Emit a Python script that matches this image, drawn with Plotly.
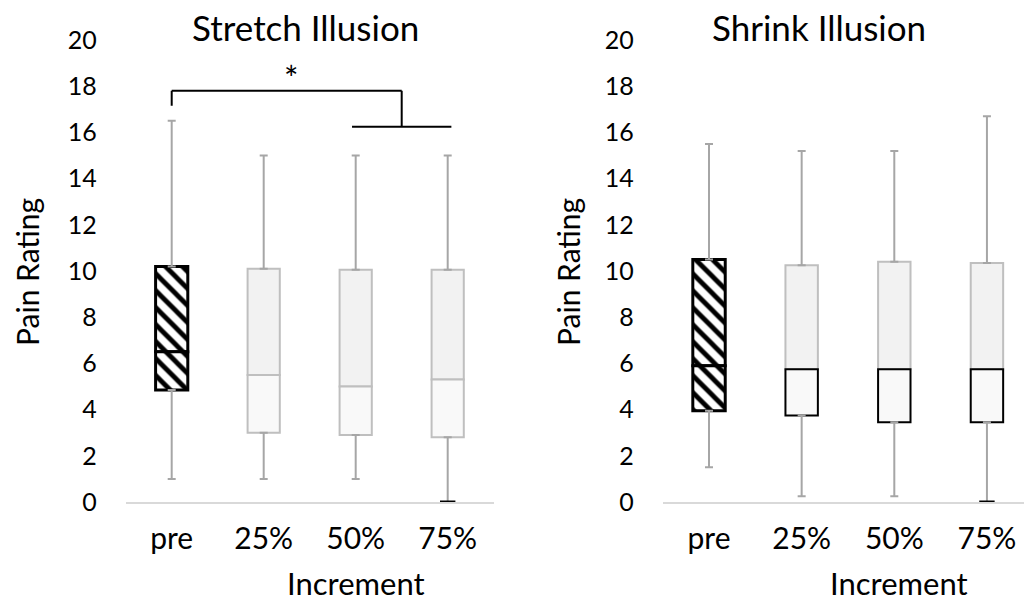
import plotly.graph_objects as go

categories = ["pre", "25%", "50%", "75%"]

stretch_min = [1.0, 1.0, 1.0, 0.0]
stretch_q1 = [4.85, 3.0, 2.9, 2.8]
stretch_med = [6.5, 5.5, 5.0, 5.3]
stretch_q3 = [10.2, 10.1, 10.05, 10.05]
stretch_max = [16.5, 15.0, 15.0, 15.0]

shrink_min = [1.5, 0.25, 0.25, 0.0]
shrink_q1 = [3.95, 3.75, 3.45, 3.45]
shrink_med = [5.9, 5.75, 5.75, 5.75]
shrink_q3 = [10.5, 10.25, 10.4, 10.35]
shrink_max = [15.5, 15.2, 15.2, 16.7]

y_ticks = list(range(0, 21, 2))
titles = ["Stretch Illusion", "Shrink Illusion"]

FONT = "Lato"
GREY_LINE = "#bfbfbf"
WHISK = "#a6a6a6"
UPPER_FILL = "#f2f2f2"
LOWER_FILL = "#f9f9f9"

W, H = 1024, 605

fig = go.Figure()

panels = [
    dict(mn=stretch_min, q1=stretch_q1, md=stretch_med, q3=stretch_q3, mx=stretch_max,
         xa="x", ya="y", lower_line=["black", GREY_LINE, GREY_LINE, GREY_LINE],
         lower_w=[3, 2, 2, 2]),
    dict(mn=shrink_min, q1=shrink_q1, md=shrink_med, q3=shrink_q3, mx=shrink_max,
         xa="x2", ya="y2", lower_line=["black", "black", "black", "black"],
         lower_w=[3, 2, 2, 2]),
]

n = len(categories)
for p in panels:
    upper_h = [b - a for a, b in zip(p["md"], p["q3"])]
    lower_h = [b - a for a, b in zip(p["q1"], p["md"])]
    pattern = dict(shape=["\\"] + [""] * (n - 1), bgcolor="white", fgcolor="black",
                   fgopacity=1, size=12, solidity=0.4)
    # upper box
    fig.add_trace(go.Bar(
        x=categories, y=upper_h, base=p["md"], width=0.35,
        marker=dict(color=UPPER_FILL,
                    line=dict(color=["black", GREY_LINE, GREY_LINE, GREY_LINE],
                              width=[3, 2, 2, 2]),
                    pattern=pattern),
        xaxis=p["xa"], yaxis=p["ya"], showlegend=False, hoverinfo="skip"))
    # lower box
    fig.add_trace(go.Bar(
        x=categories, y=lower_h, base=p["q1"], width=0.35,
        marker=dict(color=LOWER_FILL,
                    line=dict(color=p["lower_line"], width=p["lower_w"]),
                    pattern=pattern),
        xaxis=p["xa"], yaxis=p["ya"], showlegend=False, hoverinfo="skip"))
    # upper whisker
    fig.add_trace(go.Scatter(
        x=categories, y=p["q3"], mode="markers",
        marker=dict(size=1, color="rgba(0,0,0,0)"),
        error_y=dict(type="data", symmetric=False,
                     array=[b - a for a, b in zip(p["q3"], p["mx"])],
                     arrayminus=[0] * n, color=WHISK, thickness=2, width=4),
        cliponaxis=False, xaxis=p["xa"], yaxis=p["ya"], showlegend=False, hoverinfo="skip"))
    # lower whisker
    fig.add_trace(go.Scatter(
        x=categories, y=p["q1"], mode="markers",
        marker=dict(size=1, color="rgba(0,0,0,0)"),
        error_y=dict(type="data", symmetric=False,
                     array=[0] * n,
                     arrayminus=[a - b for a, b in zip(p["q1"], p["mn"])],
                     color=WHISK, thickness=2, width=4),
        cliponaxis=False, xaxis=p["xa"], yaxis=p["ya"], showlegend=False, hoverinfo="skip"))
    # black cap where minimum sits on the axis
    zx = [c for c, v in zip(categories, p["mn"]) if v == 0]
    zy = [v for v in p["mn"] if v == 0]
    fig.add_trace(go.Scatter(
        x=zx, y=zy, mode="markers",
        marker=dict(symbol="line-ew", size=11, line=dict(color="black", width=3)),
        cliponaxis=False, xaxis=p["xa"], yaxis=p["ya"], showlegend=False, hoverinfo="skip"))

x1_dom = [125.7 / W, 493.7 / W]
x2_dom = [662.7 / W, 1.0]
y_dom = [(H - 502) / H, (H - 40) / H]

xcommon = dict(type="category", showgrid=False, zeroline=False, automargin=False,
               showline=True, linecolor="#d9d9d9", linewidth=1.5, ticks="",
               ticklabelstandoff=9, tickfont=dict(family=FONT, size=30, color="black"))
ycommon = dict(range=[0, 20], tickvals=y_ticks, showgrid=False, zeroline=False,
               automargin=False, showline=False, ticks="", ticklabelstandoff=28,
               tickfont=dict(family=FONT, size=25, color="black"))

fig.update_layout(
    width=W, height=H, margin=dict(l=0, r=0, t=0, b=0, pad=0, autoexpand=False),
    paper_bgcolor="white", plot_bgcolor="white",
    barmode="overlay",
    xaxis=dict(domain=x1_dom, anchor="y", range=[-0.5, 3.5], **xcommon),
    yaxis=dict(domain=y_dom, anchor="x", **ycommon),
    xaxis2=dict(domain=x2_dom, anchor="y2", range=[-0.5, 3.4], **xcommon),
    yaxis2=dict(domain=y_dom, anchor="x2", **ycommon),
)

# significance bracket (stretch panel): pre vs 50%/75%
sig_level_top = 17.8
sig_level_low = 16.25
sig_left_drop = 17.15
bracket = dict(type="line", xref="x", yref="y", line=dict(color="black", width=2))
fig.add_shape(x0=0, x1=0, y0=sig_left_drop, y1=sig_level_top, **bracket)
fig.add_shape(x0=0, x1=2.5, y0=sig_level_top, y1=sig_level_top, **bracket)
fig.add_shape(x0=2.5, x1=2.5, y0=sig_level_top, y1=sig_level_top - 1.55, **bracket)
fig.add_shape(x0=1.96, x1=3.04, y0=sig_level_low, y1=sig_level_low, **bracket)
fig.add_annotation(x=1.3, y=17.4, xref="x", yref="y", text="*", showarrow=False,
                   font=dict(family=FONT, size=34, color="black"), yanchor="bottom")

# titles, axis labels
title_x = [305 / W, 819 / W]
ylab_x = [27 / W, 568 / W]
inc_x = [356 / W, 899 / W]
for i in range(2):
    fig.add_annotation(x=title_x[i], y=(H - 27) / H, xref="paper", yref="paper",
                       text=titles[i], showarrow=False, xanchor="center", yanchor="middle",
                       font=dict(family=FONT, size=35, color="black"))
    fig.add_annotation(x=ylab_x[i], y=(H - 272) / H, xref="paper", yref="paper",
                       text="Pain Rating", textangle=-90, showarrow=False,
                       xanchor="center", yanchor="middle",
                       font=dict(family=FONT, size=30, color="black"))
    fig.add_annotation(x=inc_x[i], y=(H - 583) / H, xref="paper", yref="paper",
                       text="Increment", showarrow=False, xanchor="center", yanchor="middle",
                       font=dict(family=FONT, size=31, color="black"))

fig.write_html("out.html")
